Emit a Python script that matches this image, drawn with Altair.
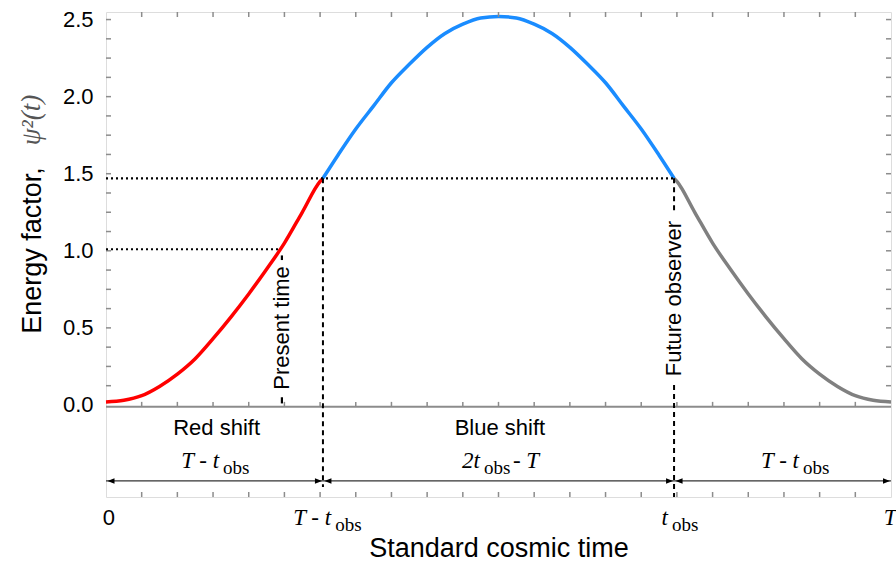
import altair as alt
import pandas as pd

# ---------------- data ----------------
T_MINUS_TOBS = 6.08   # position of "T - t_obs" on the time axis (T = 22 units)
T_OBS = 15.92         # position of "t_obs"
T_END = 22.0

t_vals = [0, 0.5, 1, 1.5, 2, 2.5, 3, 3.5, 4, 4.5, 5, 5.5, 6, 6.08, 6.5, 7, 7.5, 8, 8.5, 9, 9.5,
          10, 10.5, 11, 11.5, 12, 12.5, 13, 13.5, 14, 14.5, 15, 15.5, 15.92, 16, 16.5, 17, 17.5,
          18, 18.5, 19, 19.5, 20, 20.5, 21, 21.5, 22]
psi2_vals = [0.02, 0.03, 0.06, 0.12, 0.20, 0.30, 0.43, 0.57, 0.72, 0.88, 1.05, 1.25, 1.45, 1.47,
             1.62, 1.79, 1.94, 2.09, 2.21, 2.32, 2.41, 2.47, 2.51, 2.52, 2.51, 2.47, 2.41, 2.32,
             2.21, 2.09, 1.94, 1.79, 1.62, 1.47, 1.45, 1.25, 1.05, 0.88, 0.72, 0.57, 0.43, 0.30,
             0.20, 0.12, 0.06, 0.03, 0.02]
segment_names = ["red", "blue", "gray"]
segment_colors = ["#ff0000", "#1a8cff", "#808080"]

y_tick_labels = [0, 0.5, 1.0, 1.5, 2.0, 2.5]
y_minor_ticks = [0.125 * i for i in range(1, 21)]
x_minor_ticks = list(range(1, 22))

level_obs = 1.47      # energy factor at T - t_obs and t_obs
level_present = 1.01  # energy factor now
t_present = 4.88

# ---------------- build tables ----------------
rows = []
for t, v in zip(t_vals, psi2_vals):
    if t <= T_MINUS_TOBS:
        rows.append({"t": t, "v": v, "seg": "red"})
    if T_MINUS_TOBS <= t <= T_OBS:
        rows.append({"t": t, "v": v, "seg": "blue"})
    if t >= T_OBS:
        rows.append({"t": t, "v": v, "seg": "gray"})
curve_df = pd.DataFrame(rows)

W, H = 785, 485
Y_TOP, Y_BOT = 2.549, -0.597
SEP = -0.012
ROW_WORD, ROW_MATH, ROW_ARROW, ROW_XLAB = -0.149, -0.365, -0.493, -0.733
FRAME = "#8c8c8c"
SANS = "Liberation Sans"
SERIF = "Liberation Serif"

xs = alt.Scale(domain=[0, T_END], nice=False, zero=False)
ys = alt.Scale(domain=[Y_BOT, Y_TOP], nice=False, zero=False)

AX = alt.Axis(
    labels=False, ticks=False, domain=False, grid=False,
    title="Standard cosmic time", titleFont=SANS, titleFontSize=27,
    titleFontWeight="normal", titleColor="black", titleY=51, titleBaseline="middle")
AY = alt.Axis(
    values=y_tick_labels, format=".1f", ticks=False, domain=False, grid=False,
    labelFont=SANS, labelFontSize=22, labelColor="black", labelPadding=13,
    title="Energy factor,", titleFont=SANS, titleFontSize=27, titleFontWeight="normal",
    titleColor="black", titleAngle=270, titleX=-74, titleY=238,
    titleAlign="center", titleBaseline="middle")


def X(field):
    return alt.X(field, scale=xs, axis=AX)


def Y(field):
    return alt.Y(field, scale=ys, axis=AY)


def YD(value):
    return alt.Y(datum=value, scale=ys, axis=AY)


curve = alt.Chart(curve_df).mark_line(strokeWidth=3.5, interpolate="monotone").encode(
    x=X("t:Q"), y=Y("v:Q"),
    color=alt.Color("seg:N", scale=alt.Scale(domain=segment_names, range=segment_colors), legend=None),
    order="t:Q",
)

# dotted horizontal guides
hdots = alt.Chart(pd.DataFrame({"x": [0, 0], "x2": [T_OBS, t_present],
                                "y": [level_obs, level_present]})).mark_rule(
    color="black", strokeWidth=2.2, strokeDash=[2, 3]).encode(x=X("x:Q"), x2="x2:Q", y=Y("y:Q"))

# dashed vertical guides
vdash = alt.Chart(pd.DataFrame({"x": [T_MINUS_TOBS, T_OBS, T_OBS],
                                "y": [level_obs, level_obs, 0.13],
                                "y2": [-0.532, 1.25, Y_BOT]})).mark_rule(
    color="black", strokeWidth=2, strokeDash=[5, 4]).encode(x=X("x:Q"), y=Y("y:Q"), y2="y2:Q")

vdots = alt.Chart(pd.DataFrame({"x": [4.93, 4.93], "y": [0.97, 0.05], "y2": [0.94, 0.01]})).mark_rule(
    color="black", strokeWidth=2.2).encode(x=X("x:Q"), y=Y("y:Q"), y2="y2:Q")

# frame details
sep_line = alt.Chart(pd.DataFrame({"a": [0]})).mark_rule(color=FRAME, strokeWidth=2).encode(
    x=alt.value(0), x2=alt.value(W), y=YD(SEP))

xt_df = pd.DataFrame({"t": x_minor_ticks})
top_ticks = alt.Chart(xt_df).mark_rule(color=FRAME, strokeWidth=1.5).encode(
    x=X("t:Q"), y=alt.value(0), y2=alt.value(5))
sep_ticks = alt.Chart(xt_df).mark_rule(color=FRAME, strokeWidth=1.5).encode(
    x=X("t:Q"), y=YD(SEP), y2=alt.Y2(datum=SEP + 0.032))
bot_ticks = alt.Chart(xt_df).mark_rule(color=FRAME, strokeWidth=1.5).encode(
    x=X("t:Q"), y=alt.value(H - 5), y2=alt.value(H))

yt_df = pd.DataFrame({"v": y_minor_ticks})
left_ticks = alt.Chart(yt_df).mark_rule(color=FRAME, strokeWidth=1.5).encode(
    y=Y("v:Q"), x=alt.value(0), x2=alt.value(5))
right_ticks = alt.Chart(yt_df).mark_rule(color=FRAME, strokeWidth=1.5).encode(
    y=Y("v:Q"), x=alt.value(W - 5), x2=alt.value(W))

# interval arrows
arrows = alt.Chart(pd.DataFrame({"x": [0, T_MINUS_TOBS, T_OBS],
                                 "x2": [T_MINUS_TOBS, T_OBS, T_END]})).mark_rule(
    color="#333333", strokeWidth=1.2).encode(x=X("x:Q"), x2="x2:Q", y=YD(ROW_ARROW))
LEFT_HEAD = "M0,0 L2,-0.8 L2,0.8 Z"
RIGHT_HEAD = "M0,0 L-2,-0.8 L-2,0.8 Z"
heads_l = alt.Chart(pd.DataFrame({"x": [0, T_MINUS_TOBS, T_OBS]})).mark_point(
    shape=LEFT_HEAD, filled=True, color="black", size=49, opacity=1, xOffset=1.5).encode(
    x=X("x:Q"), y=YD(ROW_ARROW))
heads_r = alt.Chart(pd.DataFrame({"x": [T_MINUS_TOBS, T_OBS, T_END]})).mark_point(
    shape=RIGHT_HEAD, filled=True, color="black", size=49, opacity=1, xOffset=-1).encode(
    x=X("x:Q"), y=YD(ROW_ARROW))

# texts
words = alt.Chart(pd.DataFrame({"s": ["Red shift", "Blue shift"], "x": [3.1, 11.04],
                                "y": [ROW_WORD, ROW_WORD]})).mark_text(
    font=SANS, fontSize=22, color="black", align="center", baseline="middle").encode(
    x=X("x:Q"), y=Y("y:Q"), text="s:N")

vert_words = alt.Chart(pd.DataFrame({"s": ["Present time", "Future observer"], "x": [4.93, T_OBS],
                                     "y": [0.50, 0.69]})).mark_text(
    font=SANS, fontSize=22, color="black", align="center", baseline="middle", angle=270).encode(
    x=X("x:Q"), y=Y("y:Q"), text="s:N")

math_df = pd.DataFrame({
    "s": ["T - t", "2t", "T - t", "T - t", "t"],
    "x": [3.17, 10.48, 19.42, 6.31, 15.75],
    "y": [ROW_MATH, ROW_MATH, ROW_MATH, ROW_XLAB, ROW_XLAB],
})
math_main = alt.Chart(math_df).mark_text(
    font=SERIF, fontStyle="italic", fontSize=23, color="black", align="right", baseline="middle").encode(
    x=X("x:Q"), y=Y("y:Q"), text="s:N")
math_sub = alt.Chart(math_df.assign(sub="obs")).mark_text(
    font=SERIF, fontSize=19, color="black", align="left", baseline="middle", dx=4, dy=7).encode(
    x=X("x:Q"), y=Y("y:Q"), text="sub:N")
math_tail = alt.Chart(pd.DataFrame({"s": ["- T"], "x": [10.48], "y": [ROW_MATH]})).mark_text(
    font=SERIF, fontStyle="italic", fontSize=23, color="black", align="left", baseline="middle", dx=33).encode(
    x=X("x:Q"), y=Y("y:Q"), text="s:N")
lab_T = alt.Chart(pd.DataFrame({"s": ["T"], "x": [21.8], "y": [ROW_XLAB]})).mark_text(
    font=SERIF, fontStyle="italic", fontSize=23, color="black", align="left", baseline="middle").encode(
    x=X("x:Q"), y=Y("y:Q"), text="s:N")
lab_0 = alt.Chart(pd.DataFrame({"s": ["0"], "x": [0.08], "y": [ROW_XLAB]})).mark_text(
    font=SANS, fontSize=22, color="black", align="center", baseline="middle").encode(
    x=X("x:Q"), y=Y("y:Q"), text="s:N")

psi_title = alt.Chart(pd.DataFrame({"s": ["ψ²(t)"]})).mark_text(
    font=SERIF, fontStyle="italic", fontSize=27, color="#555555", align="center",
    baseline="middle", angle=270).encode(x=alt.value(-74), y=alt.value(108), text="s:N")

chart = alt.layer(
    curve, top_ticks, sep_ticks, bot_ticks, left_ticks, right_ticks, sep_line,
    hdots, vdash, vdots, arrows, heads_l, heads_r,
    words, vert_words, math_main, math_sub, math_tail, lab_T, lab_0, psi_title,
).properties(
    width=W, height=H,
    autosize=alt.AutoSizeParams(type="none"),
    padding={"left": 106, "top": 12, "right": 5, "bottom": 68},
).configure_view(stroke=FRAME, strokeWidth=2).configure(background="white")

chart.save("out.html", embed_options={"renderer": "svg", "actions": False})
